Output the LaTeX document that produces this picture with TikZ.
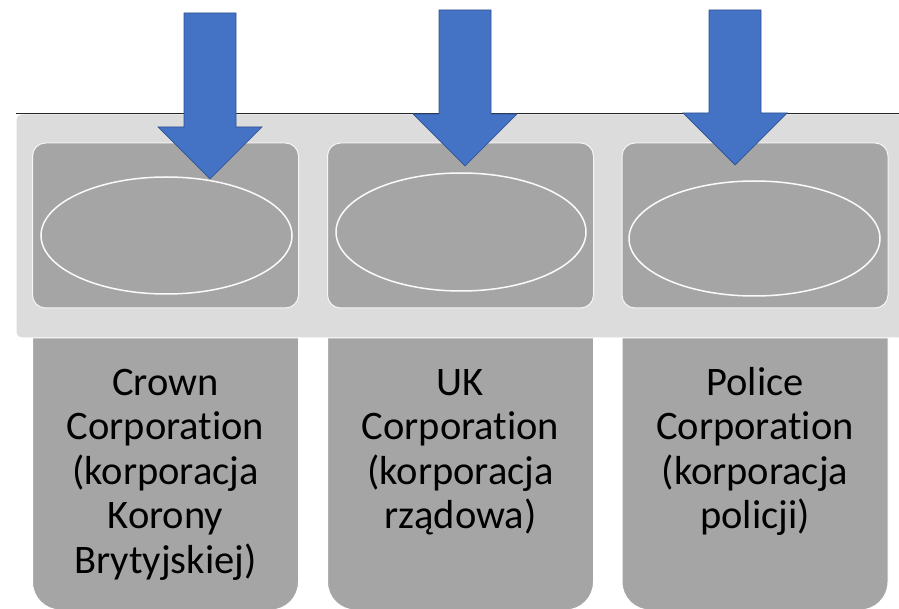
\documentclass[tikz,border=0pt]{standalone}
\usepackage{fontspec}
\setmainfont[Ligatures=NoCommon]{Carlito}
\usetikzlibrary{shapes.geometric}
\definecolor{bandgray}{HTML}{DCDCDC}
\definecolor{boxgray}{HTML}{A5A5A5}
\definecolor{arrowblue}{HTML}{4472C4}
\definecolor{arrowedge}{HTML}{2F528F}

\begin{document}
\begin{tikzpicture}[x=1pt,y=-1pt]

\tikzstyle{band}=[rectangle,rounded corners=6pt,fill=bandgray,draw=white,line width=1pt,inner sep=0pt]
\tikzstyle{slot}=[rectangle,rounded corners=13pt,fill=boxgray,draw=white!90!boxgray,line width=1pt,inner sep=0pt,minimum width=266pt,minimum height=165pt]
\tikzstyle{ring}=[ellipse,draw=white!95!boxgray,line width=1.5pt,inner sep=0pt]
\tikzstyle{tab}=[rectangle,rounded corners=28pt,fill=boxgray,draw=white,line width=1pt,inner sep=0pt,minimum width=266pt,minimum height=310pt]
\tikzstyle{label}=[anchor=north,align=center,inner sep=0pt,font=\fontsize{40.5}{44.5}\selectfont]
\tikzstyle{rule}=[black!85,line width=1.5pt]
\tikzstyle{down}=[fill=arrowblue,draw=arrowedge,line width=0.7pt]

\useasboundingbox (0,0) rectangle (899,609);

% lower tabs, tops hidden under the band
\node[tab](t1)at(165.5,455){};
\node[tab](t2)at(460.5,455){};
\node[tab](t3)at(755,455){};

\node[band,minimum width=889pt,minimum height=224pt](shelf)at(460.5,226){};
\draw[rule](shelf.north west)--(shelf.north east);

\node[slot](s1)at(165.5,225.5){};
\node[slot](s2)at(460.5,225.5){};
\node[slot](s3)at(755,225.5){};

\node[ring,minimum width=251pt,minimum height=117pt](e1)at(166.5,235.5){};
\node[ring,minimum width=250pt,minimum height=118pt](e2)at(461,232){};
\node[ring,minimum width=251pt,minimum height=115pt](e3)at(754.5,238.5){};

\node[label](l1)at(165.5,363.9){\strut Crown\\Corporation\\(korporacja\\Korony\\Brytyjskiej)};
\node[label](l2)at(460.5,363.9){\strut UK\\Corporation\\(korporacja\\rządowa)};
\node[label](l3)at(755,363.9){\strut Police\\Corporation\\(korporacja\\policji)};

% block arrows: x, shaft top, head base
\foreach \x/\t/\b in {210/13/127,465/10/114,735/10/113}
  \draw[down](\x-26,\t)--(\x+26,\t)--(\x+26,\b)--(\x+52,\b)--(\x,\b+52)--(\x-52,\b)--(\x-26,\b)--cycle;

\end{tikzpicture}
\end{document}
